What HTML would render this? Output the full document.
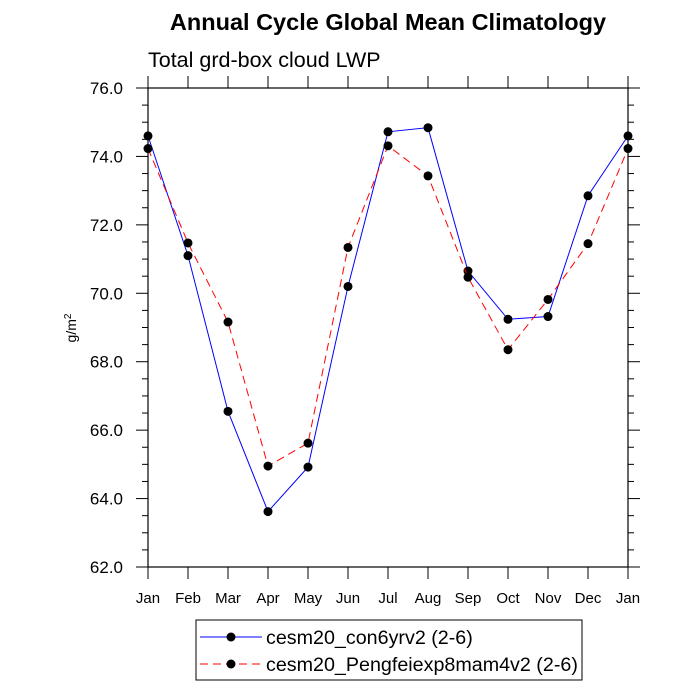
<!DOCTYPE html>
<html><head><meta charset="utf-8"><style>body{margin:0;background:#fff}svg{display:block}</style></head>
<body>
<svg id="chart" width="700" height="700" viewBox="0 0 700 700" font-family="'Liberation Sans', sans-serif">
<text x="388" y="30" text-anchor="middle" font-size="23.5" font-weight="bold">Annual Cycle Global Mean Climatology</text>
<text x="148" y="67" font-size="21.5">Total grd-box cloud LWP</text>
<text transform="translate(76,328) rotate(-90)" text-anchor="middle" font-size="14">g/m<tspan dy="-5" font-size="10">2</tspan></text>
<g id="axes"></g><g id="series"></g>
<g>
<rect x="196" y="620" width="386" height="60" fill="#fff" stroke="#000" stroke-width="1"/>
<line x1="200" y1="637" x2="262" y2="637" stroke="#00f" stroke-width="1"/>
<circle cx="231" cy="637" r="4.5" fill="#000"/>
<text x="266" y="644" font-size="19.7">cesm20_con6yrv2 (2-6)</text>
<line x1="200" y1="664" x2="262" y2="664" stroke="#f00" stroke-width="1" stroke-dasharray="8,5"/>
<circle cx="231" cy="664" r="4.5" fill="#000"/>
<text x="266" y="671" font-size="19.7">cesm20_Pengfeiexp8mam4v2 (2-6)</text>
</g>
</svg>
<script>
const months=["Jan","Feb","Mar","Apr","May","Jun","Jul","Aug","Sep","Oct","Nov","Dec","Jan"];
const controlValues=[74.6,71.1,66.55,63.62,64.92,70.2,74.72,74.84,70.65,69.24,69.32,72.85,74.6];
const expValues=[74.23,71.47,69.16,64.95,65.62,71.34,74.31,73.43,70.47,68.35,69.82,71.45,74.23];
const yTicks=[62,64,66,68,70,72,74,76];
const X0=148,X1=628,Y0=567,Y1=88,ymin=62,ymax=76;
const xs=i=>X0+i*(X1-X0)/(months.length-1);
const ys=v=>Y0-(v-ymin)*(Y0-Y1)/(ymax-ymin);
const NS="http://www.w3.org/2000/svg";
function mk(tag,attrs,parent){const e=document.createElementNS(NS,tag);for(const k in attrs)e.setAttribute(k,attrs[k]);parent.appendChild(e);return e;}
const ax=document.getElementById('axes');
const frame=mk('rect',{x:X0,y:Y1,width:X1-X0,height:Y0-Y1,fill:'none',stroke:'#000','stroke-width':1.2},ax);


for(let v=ymin;v<=ymax+1e-9;v+=0.5){const y=ys(v);const major=Math.abs(v-Math.round(v/2)*2)<1e-6;const L=major?12:6;
mk('line',{x1:X0-L,y1:y,x2:X0,y2:y,stroke:'#000'},ax);mk('line',{x1:X1,y1:y,x2:X1+L,y2:y,stroke:'#000'},ax);}
yTicks.forEach(v=>{const t=mk('text',{x:123,y:ys(v)+6,'text-anchor':'end','font-size':17},ax);t.textContent=v.toFixed(1);

});
months.forEach((m,i)=>{const x=xs(i);mk('line',{x1:x,y1:Y0,x2:x,y2:Y0+12,stroke:'#000'},ax);mk('line',{x1:x,y1:Y1-12,x2:x,y2:Y1,stroke:'#000'},ax);
const t=mk('text',{x:x,y:603,'text-anchor':'middle','font-size':15},ax);t.textContent=m;

});
const sg=document.getElementById('series');
function series(vals,color,dash,name){const g=mk('g',{},sg);


const pts=vals.map((v,i)=>xs(i)+','+ys(v)).join(' ');
const a={points:pts,fill:'none',stroke:color,'stroke-width':1};if(dash)a['stroke-dasharray']=dash;mk('polyline',a,g);
vals.forEach((v,i)=>{const c=mk('circle',{cx:xs(i),cy:ys(v),r:4.5,fill:'#000'},g);

});}
series(controlValues,'#00f',null,'control-series');
series(expValues,'#f00','8,5','experiment-series');
</script>
</body></html>
